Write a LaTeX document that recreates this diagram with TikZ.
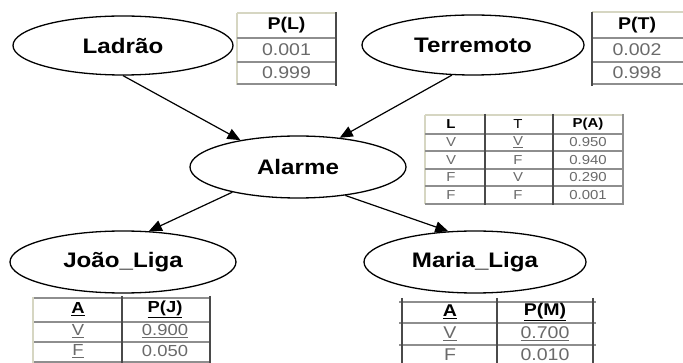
\documentclass[tikz,border=0pt]{standalone}
\usepackage{fontspec}
\setmainfont{Liberation Sans}[FakeStretch=1.15]
\usetikzlibrary{shapes.geometric,arrows.meta}
\definecolor{lgray}{HTML}{8E8E8E}
\definecolor{dgray}{HTML}{4A4A4A}
\definecolor{beige}{HTML}{D6D6C2}
\definecolor{vgray}{HTML}{6A6A6A}
\begin{document}
\begin{tikzpicture}[x=1pt,y=-1pt,
  ell/.style={ellipse,draw,line width=1.3pt,inner sep=0pt,font=\fontsize{21}{24}\selectfont\bfseries},
  arr/.style={line width=1.2pt,-{Triangle[length=13pt,width=11pt]}},
  hl/.style={draw=lgray,line width=1.4pt},
  bl/.style={draw=beige,line width=1.6pt},
  dl/.style={draw=dgray,line width=1.4pt},
  thb/.style={inner sep=0pt,font=\fontsize{17}{19}\selectfont\bfseries},
  tvb/.style={inner sep=0pt,text=vgray,font=\fontsize{17}{19}\selectfont},
  ths/.style={inner sep=0pt,font=\fontsize{13}{15}\selectfont\bfseries},
  tvs/.style={inner sep=0pt,text=vgray,font=\fontsize{13}{15}\selectfont},
  thm/.style={inner sep=0pt,font=\fontsize{16}{18}\selectfont\bfseries},
  tvm/.style={inner sep=0pt,text=vgray,font=\fontsize{16}{18}\selectfont}
]
\fill[white] (0,0) rectangle (683,363);
\useasboundingbox (0,0) rectangle (683,363);

% ellipses
\node[ell,minimum width=220pt,minimum height=59pt] (lad) at (123,45.5) {Ladrão};
\node[ell,minimum width=222pt,minimum height=60pt] (ter) at (473,45) {Terremoto};
\node[ell,minimum width=216pt,minimum height=62pt] (ala) at (298,167) {Alarme};
\node[ell,minimum width=226pt,minimum height=62pt] (joa) at (123,262) {João\_Liga};
\node[ell,minimum width=222pt,minimum height=62pt] (mar) at (475,262) {Maria\_Liga};

% arrows
\draw[arr] (lad.-90) -- (ala.155);
\draw[arr] (ter.235) -- (ala.35);
\draw[arr] (ala.201) -- (joa.50);
\draw[arr] (ala.-31) -- (mar.131);

% P(L) table
\draw[bl] (237,13) -- (336,13);
\draw[bl] (237,13) -- (237,85);
\draw[hl] (237,38) -- (336,38);
\draw[hl] (237,62) -- (336,62);
\draw[hl] (237,84) -- (336,84);
\draw[dl] (336,12) -- (336,86);
\node[thb] (plh) at (286.5,25.5) {P(L)};
\node[tvb] (pl1) at (286.5,50) {0.001};
\node[tvb] (pl2) at (286.5,73) {0.999};

% P(T) table
\draw[bl] (592,12) -- (683,12);
\draw[hl] (592,38) -- (683,38);
\draw[hl] (592,62) -- (683,62);
\draw[hl] (592,84) -- (683,84);
\draw[dl] (592,12) -- (592,86);
\node[thb] (pth) at (637,25) {P(T)};
\node[tvb] (pt1) at (637,50) {0.002};
\node[tvb] (pt2) at (637,73) {0.998};

% P(A) table
\draw[bl] (425,115) -- (623,115);
\draw[bl] (425,115) -- (425,204);
\foreach \yy in {134,151,169,186,204} \draw[hl] (425,\yy) -- (623,\yy);
\draw[dl] (485,114) -- (485,205);
\draw[dl] (553,114) -- (553,205);
\draw[hl] (623,114) -- (623,205);
\node[ths] (pah1) at (451,124.5) {L};
\node[tvs,text=black] (pah2) at (518,124.5) {T};
\node[ths] (pah3) at (588,124.5) {P(A)};
\node[tvs] (pa11) at (451,142.5) {V};
\node[tvs] (pa12) at (518,142.5) {\underline{V}};
\node[tvs] (pa13) at (588,142.5) {0.950};
\node[tvs] (pa21) at (451,160) {V};
\node[tvs] (pa22) at (518,160) {F};
\node[tvs] (pa23) at (588,160) {0.940};
\node[tvs] (pa31) at (451,177.5) {F};
\node[tvs] (pa32) at (518,177.5) {V};
\node[tvs] (pa33) at (588,177.5) {0.290};
\node[tvs] (pa41) at (451,195) {F};
\node[tvs] (pa42) at (518,195) {F};
\node[tvs] (pa43) at (588,195) {0.001};

% P(J) table
\draw[hl] (33,298) -- (210,298);
\draw[hl] (33,322) -- (210,322);
\draw[hl] (33,342) -- (210,342);
\draw[hl] (33,362) -- (210,362);
\draw[bl] (33,297) -- (33,363);
\draw[dl] (122,296) -- (122,363);
\draw[dl] (210,296) -- (210,363);
\node[thm] (pjh1) at (78,309) {\underline{A}};
\node[thm] (pjh2) at (165,309) {\underline{P(J)}};
\node[tvm] (pj11) at (78,331) {\underline{V}};
\node[tvm] (pj12) at (165,331) {\underline{0.900}};
\node[tvm] (pj21) at (78,351) {\underline{F}};
\node[tvm] (pj22) at (165,351) {0.050};

% P(M) table
\draw[hl] (399,302) -- (596,302);
\draw[hl] (399,323) -- (596,323);
\draw[hl] (399,345) -- (596,345);
\draw[dl] (402,298) -- (402,363);
\draw[dl] (497,298) -- (497,363);
\draw[dl] (593,298) -- (593,363);
\node[thb] (pmh1) at (450,312) {\underline{A}};
\node[thb] (pmh2) at (545,312) {\underline{P(M)}};
\node[tvb] (pm11) at (450,334) {\underline{V}};
\node[tvb] (pm12) at (545,334) {\underline{0.700}};
\node[tvb] (pm21) at (450,355) {F};
\node[tvb] (pm22) at (545,355) {0.010};
\end{tikzpicture}
\end{document}
